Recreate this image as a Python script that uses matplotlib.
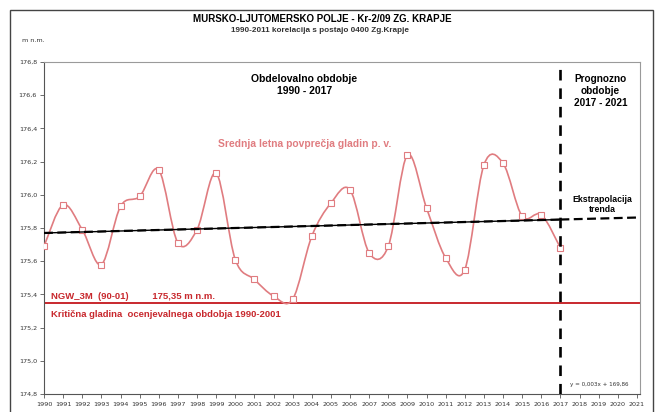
import matplotlib
matplotlib.use("Agg")
import matplotlib.pyplot as plt
from matplotlib.path import Path
from matplotlib.patches import PathPatch, Rectangle
import numpy as np

years = list(range(1990, 2018))
levels = [175.69, 175.94, 175.79, 175.58, 175.93, 175.99, 176.15, 175.71, 175.79, 176.13,
          175.61, 175.49, 175.39, 175.37, 175.75, 175.95, 176.03, 175.65, 175.69, 176.24,
          175.92, 175.62, 175.55, 176.18, 176.19, 175.87, 175.88, 175.68]
trend_start = 175.77
trend_slope = 0.003
critical_level = 175.35
xtick_years = list(range(1990, 2022))
ytick_vals = [174.8, 175.0, 175.2, 175.4, 175.6, 175.8, 176.0, 176.2, 176.4, 176.6, 176.8]

curve_col = '#e07c80'
red_col = '#c8282d'

fig = plt.figure(figsize=(6.61, 4.12), dpi=100)
fig.patches.append(Rectangle((10/661, -0.01), (653-10)/661, 1 - 10/412 + 0.01,
                             transform=fig.transFigure, fill=False, ec='#444444', lw=1.0))
ax = fig.add_axes([44/661, 1 - 394/412, (640-44)/661, (394-62)/412])
ax.set_xlim(1990, 2021.16)
ax.set_ylim(174.8, 176.8)

# smooth curve (Catmull-Rom -> cubic Bezier), like Excel smoothed line
P = np.column_stack([years, levels]).astype(float)
n = len(P)
verts = [tuple(P[0])]
codes = [Path.MOVETO]
for i in range(n - 1):
    p0 = P[i - 1] if i > 0 else P[i]
    p1 = P[i]
    p2 = P[i + 1]
    p3 = P[i + 2] if i + 2 < n else P[i + 1]
    c1 = p1 + (p2 - p0) / 6.0
    c2 = p2 - (p3 - p1) / 6.0
    verts += [tuple(c1), tuple(c2), tuple(p2)]
    codes += [Path.CURVE4] * 3
ax.add_patch(PathPatch(Path(verts, codes), fill=False, ec=curve_col, lw=1.2, zorder=3))
ax.plot(years, levels, ls='none', marker='s', ms=4, mfc='white', mec=curve_col, mew=0.8, zorder=4)

# trend line
tx = np.array([1990, 2017])
ax.plot(tx, trend_start + trend_slope * (tx - 1990), color='black', lw=1.0, zorder=5)
ax.plot(tx, trend_start + trend_slope * (tx - 1990), color='black', lw=1.6, ls=(0, (4, 2)), zorder=5)
tx2 = np.array([2017, 2021.16])
ax.plot(tx2, trend_start + trend_slope * (tx2 - 1990), color='black', lw=1.6, ls=(0, (4, 2)), zorder=5)

# critical level
ax.axhline(critical_level, color=red_col, lw=1.4, zorder=2)

# period divider
ax.axvline(2017, color='black', lw=1.9, ls=(0, (4, 3)), zorder=6)

# axes styling
for s in ['top', 'right']:
    ax.spines[s].set_color('#9a9a9a')
for s in ['left', 'bottom']:
    ax.spines[s].set_color('#555555')
ax.set_xticks(xtick_years)
ax.set_xticklabels([str(y) for y in xtick_years], fontsize=4.6, color='#333333')
ax.set_yticks(ytick_vals)
ax.set_yticklabels([f"{v:.1f}".replace('.', ',') for v in ytick_vals], fontsize=4.6, color='#333333')
ax.tick_params(axis='both', length=3, width=0.6, color='#555555', pad=2)
ax.tick_params(axis='x', pad=3)

# texts
fig.text(322/661, 1 - 19/412, "MURSKO-LJUTOMERSKO POLJE - Kr-2/09 ZG. KRAPJE", ha='center', va='center',
         fontsize=7.0, fontweight='bold', family='Liberation Sans')
fig.text(320/661, 1 - 30/412, "1990-2011 korelacija s postajo 0400 Zg.Krapje", ha='center', va='center',
         fontsize=5.85, fontweight='bold', family='Liberation Sans', color='#333333')
fig.text(22/661, 1 - 41/412, "m n.m.", ha='left', va='center', fontsize=4.6, color='#333333')

ax.text(2003.6, 176.661, "Obdelovalno obdobje\n1990 - 2017", ha='center', va='center', fontsize=7.5,
        fontweight='bold', family='Liberation Sans', linespacing=1.15)
ax.text(2019.1, 176.625, "Prognozno\nobdobje\n2017 - 2021", ha='center', va='center', fontsize=7.2,
        fontweight='bold', family='Liberation Sans', linespacing=1.3)
ax.text(2003.6, 176.306, "Srednja letna povprečja gladin p. v.", ha='center', va='center', fontsize=7.4,
        fontweight='bold', family='Liberation Sans', color=curve_col)
ax.text(2019.17, 175.942, "Ekstrapolacija\ntrenda", ha='center', va='center', fontsize=6.3,
        fontweight='bold', family='Liberation Sans', linespacing=1.12)
ax.text(1990.35, 175.39, "NGW_3M  (90-01)         175,35 m n.m.", ha='left', va='center', fontsize=6.8,
        fontweight='bold', family='Liberation Sans', color=red_col)
ax.text(1990.35, 175.276, "Kritična gladina  ocenjevalnega obdobja 1990-2001", ha='left', va='center',
        fontsize=6.8, fontweight='bold', family='Liberation Sans', color=red_col)
ax.text(2017.5, 174.855, "y = 0,003x + 169,86", ha='left', va='center', fontsize=4.1, color='#333333')

fig.savefig("out.png", dpi=100)
